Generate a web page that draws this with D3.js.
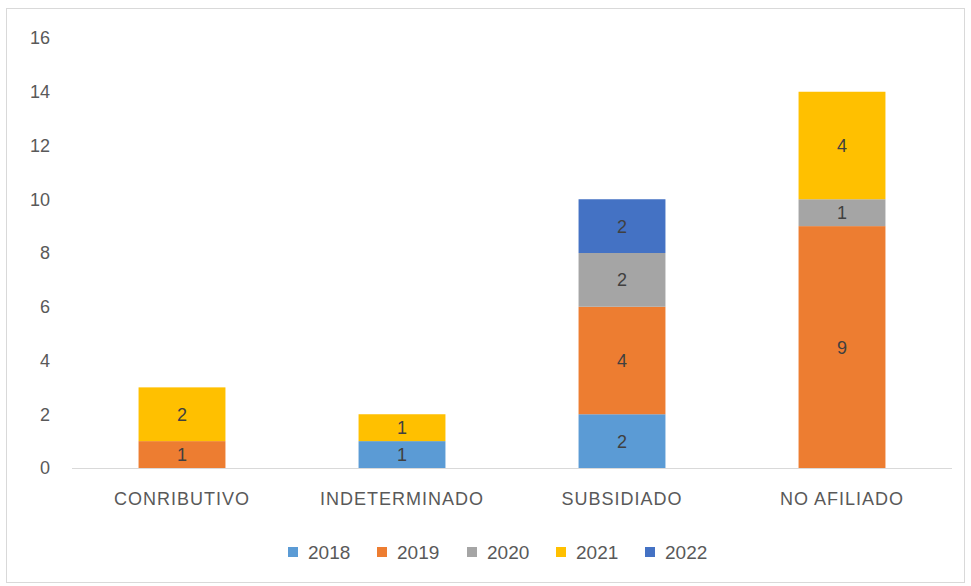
<!DOCTYPE html>
<html>
<head>
<meta charset="utf-8">
<script src="https://cdn.jsdelivr.net/npm/d3@7/dist/d3.min.js"></script>
<style>
  html, body { margin: 0; padding: 0; background: #fff; }
  svg { display: block; font-family: "Liberation Sans", "DejaVu Sans", sans-serif; }
</style>
</head>
<body>
<svg id="chart" width="971" height="586"></svg>
<script>
// Affiliation regimes and yearly counts
const categories = ["CONRIBUTIVO", "INDETERMINADO", "SUBSIDIADO", "NO AFILIADO"];
const years = ["2018", "2019", "2020", "2021", "2022"];
const values2018 = [0, 1, 2, 0];
const values2019 = [1, 0, 4, 9];
const values2020 = [0, 0, 2, 1];
const values2021 = [2, 1, 0, 4];
const values2022 = [0, 0, 2, 0];
const yTicks = [0, 2, 4, 6, 8, 10, 12, 14, 16];
const colors = ["#5B9BD5", "#ED7D31", "#A5A5A5", "#FFC000", "#4472C4"];

const seriesValues = [values2018, values2019, values2020, values2021, values2022];
const rows = categories.map((c, i) => {
  const r = { category: c };
  years.forEach((y, j) => { r[y] = seriesValues[j][i]; });
  return r;
});

const svg = d3.select("#chart");
const W = 971, H = 586;
const FONT = 18;

// chart frame
svg.append("rect")
  .attr("x", 6.5).attr("y", 8.5)
  .attr("width", W - 13).attr("height", H - 12)
  .attr("fill", "#fff").attr("stroke", "#D9D9D9").attr("stroke-width", 1);

const plot = { left: 72, right: 952, top: 38, bottom: 468 };

const x = d3.scaleBand()
  .domain(categories)
  .range([plot.left, plot.right])
  .paddingInner(0.605)
  .paddingOuter(0.3025);

const y = d3.scaleLinear()
  .domain([0, 16])
  .range([plot.bottom, plot.top]);

const stacked = d3.stack().keys(years)(rows);

const g = svg.append("g");

// stacked bars
const layers = g.selectAll("g.layer")
  .data(stacked)
  .join("g")
  .attr("class", "layer")
  .attr("fill", (d, i) => colors[i]);

layers.selectAll("rect")
  .data(d => d.filter(p => p[1] - p[0] > 0))
  .join("rect")
  .attr("x", p => x(p.data.category))
  .attr("width", x.bandwidth())
  .attr("y", p => y(p[1]))
  .attr("height", p => y(p[0]) - y(p[1]));

// value labels inside segments
layers.selectAll("text")
  .data(d => d.filter(p => p[1] - p[0] > 0))
  .join("text")
  .attr("x", p => x(p.data.category) + x.bandwidth() / 2)
  .attr("y", p => (y(p[0]) + y(p[1])) / 2)
  .attr("dy", "0.36em")
  .attr("text-anchor", "middle")
  .attr("fill", "#404040")
  .attr("font-size", FONT)
  .text(p => p[1] - p[0]);

// baseline
g.append("line")
  .attr("x1", plot.left).attr("x2", plot.right)
  .attr("y1", y(0) + 0.5).attr("y2", y(0) + 0.5)
  .attr("stroke", "#D9D9D9").attr("stroke-width", 1);

// y axis labels
const yAxis = d3.axisLeft(y).tickValues(yTicks).tickSize(0).tickPadding(0);
const ya = g.append("g")
  .attr("transform", "translate(50,0)")
  .call(yAxis);
ya.select(".domain").remove();
ya.selectAll("text")
  .attr("fill", "#595959")
  .attr("font-size", FONT)
  .attr("font-family", "Liberation Sans, sans-serif");

// category axis labels
const xAxis = d3.axisBottom(x).tickSize(0).tickPadding(0);
const xa = g.append("g")
  .attr("transform", `translate(0,${y(0) + 24})`)
  .call(xAxis);
xa.select(".domain").remove();
xa.selectAll("text")
  .attr("fill", "#595959")
  .attr("font-size", FONT)
  .attr("letter-spacing", 1)
  .attr("font-family", "Liberation Sans, sans-serif");

// legend
const legendX = [288, 377, 467, 556, 645];
const legend = g.append("g").attr("transform", "translate(0,552)");
const items = legend.selectAll("g")
  .data(years)
  .join("g")
  .attr("transform", (d, i) => `translate(${legendX[i]},0)`);
items.append("rect")
  .attr("x", 0).attr("y", -5)
  .attr("width", 10).attr("height", 10)
  .attr("fill", (d, i) => colors[i]);
items.append("text")
  .attr("x", 20).attr("y", 0).attr("dy", "0.36em")
  .attr("fill", "#595959")
  .attr("font-size", 19)
  .text(d => d);
</script>
</body>
</html>
